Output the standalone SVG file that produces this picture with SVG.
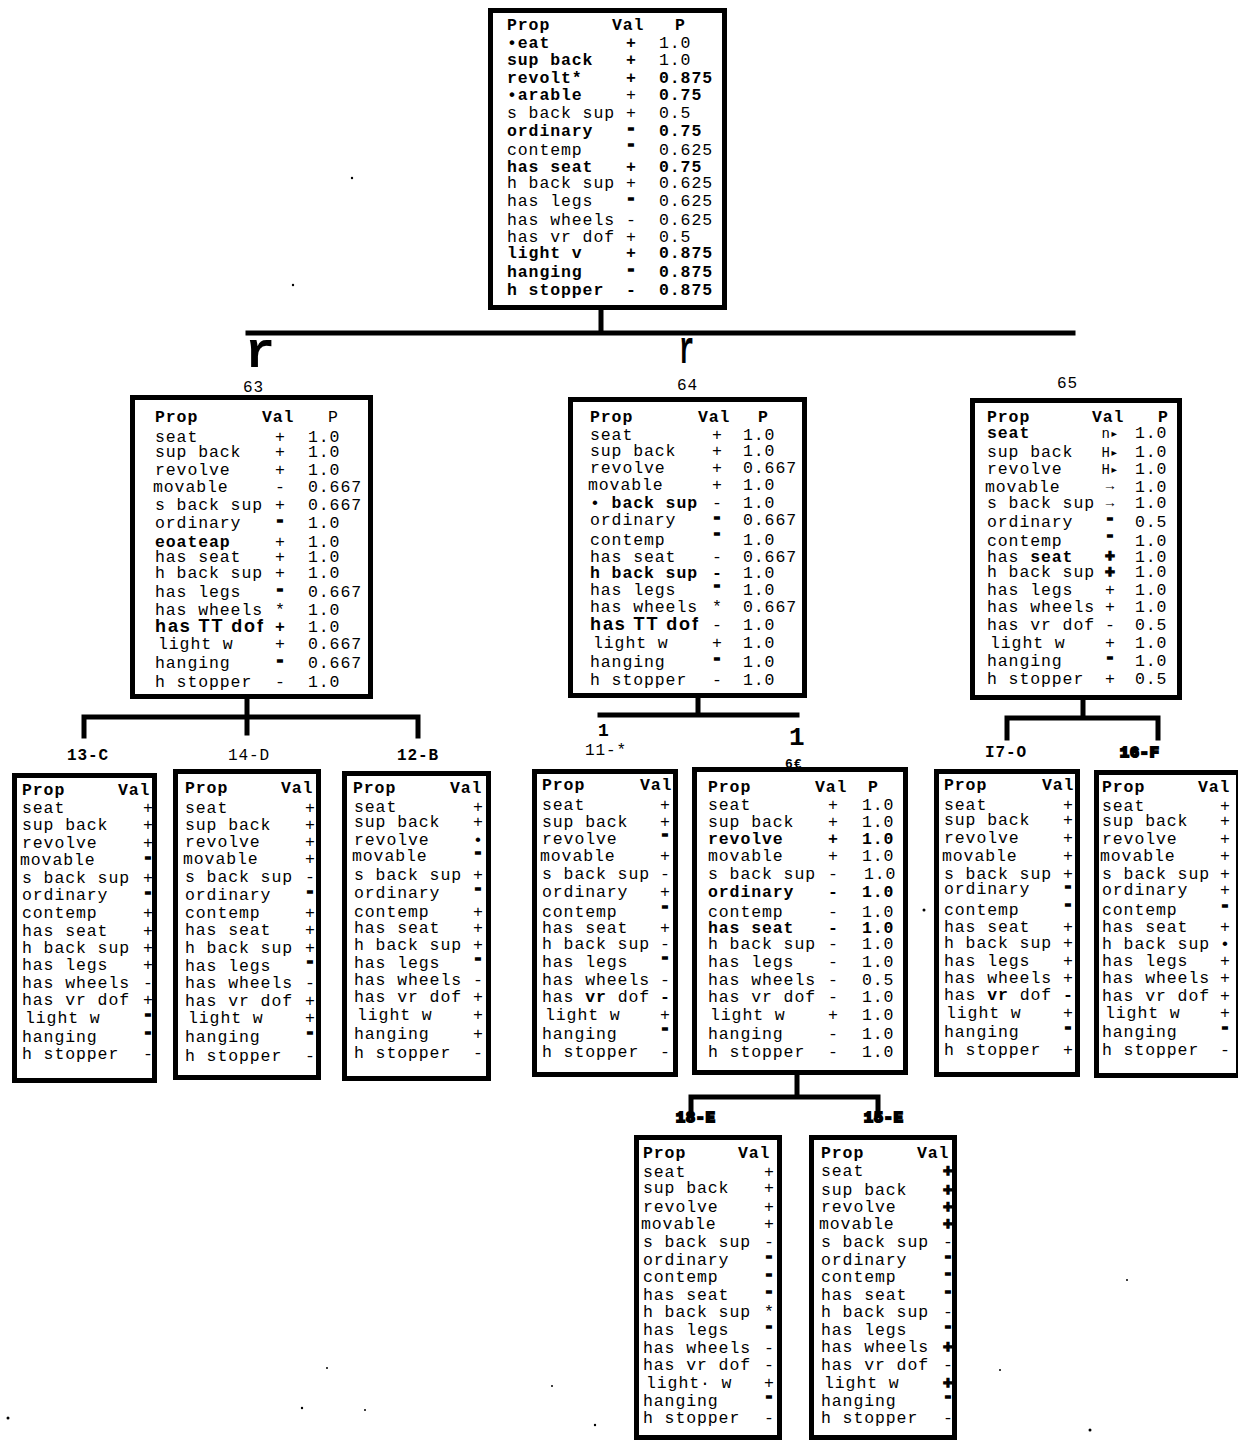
<svg xmlns="http://www.w3.org/2000/svg" width="1238" height="1441" viewBox="0 0 1238 1441">
<style>
.t{font-family:"Liberation Mono","Courier New",monospace;font-size:16.5px;letter-spacing:0.9px;fill:#000}
.b{font-weight:bold}
.h{font-weight:bold;stroke:#000;stroke-width:1.4}
.v{text-anchor:middle;letter-spacing:0}
.s{font-size:14px}
.sp{font-family:"Liberation Sans",Arial,sans-serif;font-weight:bold;font-size:18px}
.lb{font-size:16px}
.bl{font-weight:bold;stroke:#000;stroke-width:2.2;font-size:15px}
.box{fill:#fff;stroke:#000;stroke-width:5}
.ln{fill:none;stroke:#000;stroke-width:5;stroke-linecap:square}
</style>
<rect width="1238" height="1441" fill="#fff"/>
<g id="connectors">
<path class="ln" d="M601,310V333M248,333H1073"/>
<path class="ln" d="M247,699V733M84,717H418M84,717V736M418,717V736"/>
<path class="ln" d="M698,698V715M600,715H797"/>
<path class="ln" d="M1083,700V718M1007,718H1158M1007,718V738M1158,718V738"/>
<path class="ln" d="M797,1075V1097M691,1097H878M691,1097V1110M878,1097V1110"/>
<text class="t b" x="245" y="367" style="font-size:50px">r</text>
<text class="t b" transform="translate(679,363) scale(0.55,1)" style="font-size:46px">r</text>
<text class="t b" x="598" y="736" style="font-size:18px">1</text>
<text class="t b" x="789" y="745" style="font-size:26px">1</text>
</g>
<g id="root">
<rect class="box" x="490.5" y="10.5" width="234" height="297"/>
<text class="t b" x="507" y="30">Prop</text><text class="t b" x="612" y="30">Val</text><text class="t b" x="675" y="30">P</text>
<text class="t b" x="507" y="48">•eat</text><text class="t b v" x="631" y="48">+</text><text class="t" x="659" y="48">1.0</text>
<text class="t b" x="507" y="65">sup back</text><text class="t b v" x="631" y="65">+</text><text class="t" x="659" y="65">1.0</text>
<text class="t b" x="507" y="83">revolt*</text><text class="t b v" x="631" y="83">+</text><text class="t b" x="659" y="83">0.875</text>
<text class="t b" x="507" y="100">•arable</text><text class="t v" x="631" y="100">+</text><text class="t b" x="659" y="100">0.75</text>
<text class="t" x="507" y="118">s back sup</text><text class="t v" x="631" y="118">+</text><text class="t" x="659" y="118">0.5</text>
<text class="t b" x="507" y="136">ordinary</text><text class="t h v" x="631" y="133">-</text><text class="t b" x="659" y="136">0.75</text>
<text class="t" x="507" y="155">contemp</text><text class="t h v" x="631" y="149">-</text><text class="t" x="659" y="155">0.625</text>
<text class="t b" x="507" y="172">has seat</text><text class="t b v" x="631" y="172">+</text><text class="t b" x="659" y="172">0.75</text>
<text class="t" x="507" y="188">h back sup</text><text class="t v" x="631" y="188">+</text><text class="t" x="659" y="188">0.625</text>
<text class="t" x="507" y="206">has legs</text><text class="t h v" x="631" y="203">-</text><text class="t" x="659" y="206">0.625</text>
<text class="t" x="507" y="225">has wheels</text><text class="t v" x="631" y="225">-</text><text class="t" x="659" y="225">0.625</text>
<text class="t" x="507" y="242">has vr dof</text><text class="t v" x="631" y="242">+</text><text class="t" x="659" y="242">0.5</text>
<text class="t b" x="507" y="258">light v</text><text class="t b v" x="631" y="258">+</text><text class="t b" x="659" y="258">0.875</text>
<text class="t b" x="507" y="277">hanging</text><text class="t h v" x="631" y="274">-</text><text class="t b" x="659" y="277">0.875</text>
<text class="t b" x="507" y="295">h stopper</text><text class="t b v" x="631" y="295">-</text><text class="t b" x="659" y="295">0.875</text>
</g>
<g id="n63">
<text class="t" x="243" y="392" style="font-size:16px">63</text>
<rect class="box" x="132.5" y="397.5" width="238" height="299"/>
<text class="t b" x="155" y="422">Prop</text><text class="t b" x="262" y="422">Val</text><text class="t" x="328" y="422">P</text>
<text class="t" x="155" y="442">seat</text><text class="t v" x="280" y="442">+</text><text class="t" x="308" y="442">1.0</text>
<text class="t" x="155" y="457">sup back</text><text class="t v" x="280" y="457">+</text><text class="t" x="308" y="457">1.0</text>
<text class="t" x="155" y="475">revolve</text><text class="t v" x="280" y="475">+</text><text class="t" x="308" y="475">1.0</text>
<text class="t" x="153" y="492">movable</text><text class="t v" x="280" y="492">-</text><text class="t" x="308" y="492">0.667</text>
<text class="t" x="155" y="510">s back sup</text><text class="t v" x="280" y="510">+</text><text class="t" x="308" y="510">0.667</text>
<text class="t" x="155" y="528">ordinary</text><text class="t h v" x="280" y="525">-</text><text class="t" x="308" y="528">1.0</text>
<text class="t b" x="155" y="547">eoateap</text><text class="t v" x="280" y="547">+</text><text class="t" x="308" y="547">1.0</text>
<text class="t" x="155" y="562">has seat</text><text class="t v" x="280" y="562">+</text><text class="t" x="308" y="562">1.0</text>
<text class="t" x="155" y="578">h back sup</text><text class="t v" x="280" y="578">+</text><text class="t" x="308" y="578">1.0</text>
<text class="t" x="155" y="597">has legs</text><text class="t h v" x="280" y="594">-</text><text class="t" x="308" y="597">0.667</text>
<text class="t" x="155" y="615">has wheels</text><text class="t v" x="280" y="615">*</text><text class="t" x="308" y="615">1.0</text>
<text class="sp" x="155" y="632" textLength="108">has TT dof</text><text class="t b v" x="280" y="632">+</text><text class="t" x="308" y="632">1.0</text>
<text class="t" x="158" y="649">light w</text><text class="t v" x="280" y="649">+</text><text class="t" x="308" y="649">0.667</text>
<text class="t" x="155" y="668">hanging</text><text class="t h v" x="280" y="665">-</text><text class="t" x="308" y="668">0.667</text>
<text class="t" x="155" y="687">h stopper</text><text class="t v" x="280" y="687">-</text><text class="t" x="308" y="687">1.0</text>
</g>
<g id="n64">
<text class="t" x="677" y="390" style="font-size:16px">64</text>
<rect class="box" x="570.5" y="399.5" width="234" height="296"/>
<text class="t b" x="590" y="422">Prop</text><text class="t b" x="698" y="422">Val</text><text class="t b" x="758" y="422">P</text>
<text class="t" x="590" y="440">seat</text><text class="t v" x="717" y="440">+</text><text class="t" x="743" y="440">1.0</text>
<text class="t" x="590" y="456">sup back</text><text class="t v" x="717" y="456">+</text><text class="t" x="743" y="456">1.0</text>
<text class="t" x="590" y="473">revolve</text><text class="t v" x="717" y="473">+</text><text class="t" x="743" y="473">0.667</text>
<text class="t" x="588" y="490">movable</text><text class="t v" x="717" y="490">+</text><text class="t" x="743" y="490">1.0</text>
<text class="t" x="590" y="508">• <tspan font-weight="bold">back sup</tspan></text><text class="t v" x="717" y="508">-</text><text class="t" x="743" y="508">1.0</text>
<text class="t" x="590" y="525">ordinary</text><text class="t h v" x="717" y="522">-</text><text class="t" x="743" y="525">0.667</text>
<text class="t" x="590" y="545">contemp</text><text class="t h v" x="717" y="538">-</text><text class="t" x="743" y="545">1.0</text>
<text class="t" x="590" y="562">has seat</text><text class="t v" x="717" y="562">-</text><text class="t" x="743" y="562">0.667</text>
<text class="t b" x="590" y="578">h back sup</text><text class="t b v" x="717" y="578">-</text><text class="t" x="743" y="578">1.0</text>
<text class="t" x="590" y="595">has legs</text><text class="t h v" x="717" y="590">-</text><text class="t" x="743" y="595">1.0</text>
<text class="t" x="590" y="612">has wheels</text><text class="t v" x="717" y="612">*</text><text class="t" x="743" y="612">0.667</text>
<text class="sp" x="590" y="630" textLength="108">has TT dof</text><text class="t v" x="717" y="630">-</text><text class="t" x="743" y="630">1.0</text>
<text class="t" x="593" y="648">light w</text><text class="t v" x="717" y="648">+</text><text class="t" x="743" y="648">1.0</text>
<text class="t" x="590" y="667">hanging</text><text class="t h v" x="717" y="663">-</text><text class="t" x="743" y="667">1.0</text>
<text class="t" x="590" y="685">h stopper</text><text class="t v" x="717" y="685">-</text><text class="t" x="743" y="685">1.0</text>
</g>
<g id="n65">
<text class="t" x="1057" y="388" style="font-size:16px">65</text>
<rect class="box" x="972.5" y="400.5" width="207" height="297"/>
<text class="t b" x="987" y="422">Prop</text><text class="t b" x="1092" y="422">Val</text><text class="t b" x="1158" y="422">P</text>
<text class="t b" x="987" y="438">seat</text><text class="t s v" x="1110" y="438">n▸</text><text class="t" x="1135" y="438">1.0</text>
<text class="t" x="987" y="457">sup back</text><text class="t s v" x="1110" y="457">H▸</text><text class="t" x="1135" y="457">1.0</text>
<text class="t" x="987" y="474">revolve</text><text class="t s v" x="1110" y="474">H▸</text><text class="t" x="1135" y="474">1.0</text>
<text class="t" x="985" y="492">movable</text><text class="t s b v" x="1110" y="490">→</text><text class="t" x="1135" y="492">1.0</text>
<text class="t" x="987" y="508">s back sup</text><text class="t s b v" x="1110" y="507">→</text><text class="t" x="1135" y="508">1.0</text>
<text class="t" x="987" y="527">ordinary</text><text class="t h v" x="1110" y="523">-</text><text class="t" x="1135" y="527">0.5</text>
<text class="t" x="987" y="546">contemp</text><text class="t h v" x="1110" y="540">-</text><text class="t" x="1135" y="546">1.0</text>
<text class="t" x="987" y="562">has <tspan font-weight="bold">seat</tspan></text><text class="t h v" x="1110" y="561">+</text><text class="t" x="1135" y="562">1.0</text>
<text class="t" x="987" y="577">h back sup</text><text class="t h v" x="1110" y="577">+</text><text class="t" x="1135" y="577">1.0</text>
<text class="t" x="987" y="595">has legs</text><text class="t v" x="1110" y="595">+</text><text class="t" x="1135" y="595">1.0</text>
<text class="t" x="987" y="612">has wheels</text><text class="t v" x="1110" y="612">+</text><text class="t" x="1135" y="612">1.0</text>
<text class="t" x="987" y="630">has vr dof</text><text class="t v" x="1110" y="630">-</text><text class="t" x="1135" y="630">0.5</text>
<text class="t" x="990" y="648">light w</text><text class="t v" x="1110" y="648">+</text><text class="t" x="1135" y="648">1.0</text>
<text class="t" x="987" y="666">hanging</text><text class="t h v" x="1110" y="662">-</text><text class="t" x="1135" y="666">1.0</text>
<text class="t" x="987" y="684">h stopper</text><text class="t v" x="1110" y="684">+</text><text class="t" x="1135" y="684">0.5</text>
</g>
<g id="n13C">
<text class="t b lb" x="67" y="760">13-C</text>
<rect class="box" x="14.5" y="775.5" width="140" height="305"/>
<text class="t b" x="22" y="795">Prop</text><text class="t b" x="118" y="795">Val</text>
<text class="t" x="22" y="813">seat</text><text class="t v" x="148" y="813">+</text>
<text class="t" x="22" y="830">sup back</text><text class="t v" x="148" y="830">+</text>
<text class="t" x="22" y="848">revolve</text><text class="t v" x="148" y="848">+</text>
<text class="t" x="20" y="865">movable</text><text class="t h v" x="148" y="862">-</text>
<text class="t" x="22" y="883">s back sup</text><text class="t v" x="148" y="883">+</text>
<text class="t" x="22" y="900">ordinary</text><text class="t h v" x="148" y="897">-</text>
<text class="t" x="22" y="918">contemp</text><text class="t v" x="148" y="918">+</text>
<text class="t" x="22" y="936">has seat</text><text class="t v" x="148" y="936">+</text>
<text class="t" x="22" y="953">h back sup</text><text class="t v" x="148" y="953">+</text>
<text class="t" x="22" y="970">has legs</text><text class="t v" x="148" y="970">+</text>
<text class="t" x="22" y="988">has wheels</text><text class="t v" x="148" y="988">-</text>
<text class="t" x="22" y="1005">has vr dof</text><text class="t v" x="148" y="1005">+</text>
<text class="t" x="25" y="1023">light w</text><text class="t h v" x="148" y="1019">-</text>
<text class="t" x="22" y="1042">hanging</text><text class="t h v" x="148" y="1037">-</text>
<text class="t" x="22" y="1059">h stopper</text><text class="t v" x="148" y="1059">-</text>
</g>
<g id="n14D">
<text class="t lb" x="228" y="760">14-D</text>
<rect class="box" x="175.5" y="771.5" width="143" height="306"/>
<text class="t b" x="185" y="793">Prop</text><text class="t b" x="281" y="793">Val</text>
<text class="t" x="185" y="813">seat</text><text class="t v" x="310" y="813">+</text>
<text class="t" x="185" y="830">sup back</text><text class="t v" x="310" y="830">+</text>
<text class="t" x="185" y="847">revolve</text><text class="t v" x="310" y="847">+</text>
<text class="t" x="183" y="864">movable</text><text class="t v" x="310" y="864">+</text>
<text class="t" x="185" y="882">s back sup</text><text class="t v" x="310" y="882">-</text>
<text class="t" x="185" y="900">ordinary</text><text class="t h v" x="310" y="896">-</text>
<text class="t" x="185" y="918">contemp</text><text class="t v" x="310" y="918">+</text>
<text class="t" x="185" y="935">has seat</text><text class="t v" x="310" y="935">+</text>
<text class="t" x="185" y="953">h back sup</text><text class="t v" x="310" y="953">+</text>
<text class="t" x="185" y="971">has legs</text><text class="t h v" x="310" y="966">-</text>
<text class="t" x="185" y="988">has wheels</text><text class="t v" x="310" y="988">-</text>
<text class="t" x="185" y="1006">has vr dof</text><text class="t v" x="310" y="1006">+</text>
<text class="t" x="188" y="1023">light w</text><text class="t v" x="310" y="1023">+</text>
<text class="t" x="185" y="1042">hanging</text><text class="t h v" x="310" y="1037">-</text>
<text class="t" x="185" y="1061">h stopper</text><text class="t v" x="310" y="1061">-</text>
</g>
<g id="n12B">
<text class="t b lb" x="397" y="760">12-B</text>
<rect class="box" x="344.5" y="773.5" width="144" height="305"/>
<text class="t b" x="353" y="793">Prop</text><text class="t b" x="450" y="793">Val</text>
<text class="t" x="354" y="812">seat</text><text class="t v" x="478" y="812">+</text>
<text class="t" x="354" y="827">sup back</text><text class="t v" x="478" y="827">+</text>
<text class="t" x="354" y="845">revolve</text><text class="t v" x="478" y="845">•</text>
<text class="t" x="352" y="861">movable</text><text class="t h v" x="478" y="857">-</text>
<text class="t" x="354" y="880">s back sup</text><text class="t v" x="478" y="880">+</text>
<text class="t" x="354" y="898">ordinary</text><text class="t h v" x="478" y="893">-</text>
<text class="t" x="354" y="917">contemp</text><text class="t v" x="478" y="917">+</text>
<text class="t" x="354" y="933">has seat</text><text class="t v" x="478" y="933">+</text>
<text class="t" x="354" y="950">h back sup</text><text class="t v" x="478" y="950">+</text>
<text class="t" x="354" y="968">has legs</text><text class="t h v" x="478" y="963">-</text>
<text class="t" x="354" y="985">has wheels</text><text class="t v" x="478" y="985">-</text>
<text class="t" x="354" y="1002">has vr dof</text><text class="t v" x="478" y="1002">+</text>
<text class="t" x="357" y="1020">light w</text><text class="t v" x="478" y="1020">+</text>
<text class="t" x="354" y="1039">hanging</text><text class="t v" x="478" y="1039">+</text>
<text class="t" x="354" y="1058">h stopper</text><text class="t v" x="478" y="1058">-</text>
</g>
<g id="n11">
<text class="t" x="585" y="755" style="font-size:16px">11-*</text>
<rect class="box" x="534.5" y="771.5" width="141" height="303"/>
<text class="t b" x="542" y="790">Prop</text><text class="t b" x="640" y="790">Val</text>
<text class="t" x="542" y="810">seat</text><text class="t v" x="665" y="810">+</text>
<text class="t" x="542" y="827">sup back</text><text class="t v" x="665" y="827">+</text>
<text class="t" x="542" y="844">revolve</text><text class="t h v" x="665" y="839">-</text>
<text class="t" x="540" y="861">movable</text><text class="t v" x="665" y="861">+</text>
<text class="t" x="542" y="879">s back sup</text><text class="t v" x="665" y="879">-</text>
<text class="t" x="542" y="897">ordinary</text><text class="t v" x="665" y="897">+</text>
<text class="t" x="542" y="917">contemp</text><text class="t h v" x="665" y="911">-</text>
<text class="t" x="542" y="933">has seat</text><text class="t v" x="665" y="933">+</text>
<text class="t" x="542" y="949">h back sup</text><text class="t v" x="665" y="949">-</text>
<text class="t" x="542" y="967">has legs</text><text class="t h v" x="665" y="962">-</text>
<text class="t" x="542" y="985">has wheels</text><text class="t v" x="665" y="985">-</text>
<text class="t" x="542" y="1002">has <tspan font-weight="bold">vr</tspan> dof</text><text class="t b v" x="665" y="1002">-</text>
<text class="t" x="545" y="1020">light w</text><text class="t v" x="665" y="1020">+</text>
<text class="t" x="542" y="1039">hanging</text><text class="t h v" x="665" y="1033">-</text>
<text class="t" x="542" y="1057">h stopper</text><text class="t v" x="665" y="1057">-</text>
</g>
<g id="n6">
<text class="t b" x="785" y="768" style="font-size:13px">6€</text>
<rect class="box" x="694.5" y="769.5" width="211" height="303"/>
<text class="t b" x="708" y="792">Prop</text><text class="t b" x="815" y="792">Val</text><text class="t b" x="868" y="792">P</text>
<text class="t" x="708" y="810">seat</text><text class="t v" x="833" y="810">+</text><text class="t" x="862" y="810">1.0</text>
<text class="t" x="708" y="827">sup back</text><text class="t v" x="833" y="827">+</text><text class="t" x="862" y="827">1.0</text>
<text class="t b" x="708" y="844">revolve</text><text class="t b v" x="833" y="844">+</text><text class="t b" x="862" y="844">1.0</text>
<text class="t" x="708" y="861">movable</text><text class="t v" x="833" y="861">+</text><text class="t" x="862" y="861">1.0</text>
<text class="t" x="708" y="879">s back sup</text><text class="t v" x="833" y="879">-</text><text class="t" x="864" y="879">1.0</text>
<text class="t b" x="708" y="897">ordinary</text><text class="t b v" x="833" y="897">-</text><text class="t b" x="862" y="897">1.0</text>
<text class="t" x="708" y="917">contemp</text><text class="t v" x="833" y="917">-</text><text class="t" x="862" y="917">1.0</text>
<text class="t b" x="708" y="933">has seat</text><text class="t b v" x="833" y="933">-</text><text class="t b" x="862" y="933">1.0</text>
<text class="t" x="708" y="949">h back sup</text><text class="t v" x="833" y="949">-</text><text class="t" x="862" y="949">1.0</text>
<text class="t" x="708" y="967">has legs</text><text class="t v" x="833" y="967">-</text><text class="t" x="862" y="967">1.0</text>
<text class="t" x="708" y="985">has wheels</text><text class="t v" x="833" y="985">-</text><text class="t" x="862" y="985">0.5</text>
<text class="t" x="708" y="1002">has vr dof</text><text class="t v" x="833" y="1002">-</text><text class="t" x="862" y="1002">1.0</text>
<text class="t" x="710" y="1020">light w</text><text class="t v" x="833" y="1020">+</text><text class="t" x="862" y="1020">1.0</text>
<text class="t" x="708" y="1039">hanging</text><text class="t v" x="833" y="1039">-</text><text class="t" x="862" y="1039">1.0</text>
<text class="t" x="708" y="1057">h stopper</text><text class="t v" x="833" y="1057">-</text><text class="t" x="862" y="1057">1.0</text>
</g>
<g id="n17O">
<text class="t b lb" x="985" y="757">I7-O</text>
<rect class="box" x="936.5" y="771.5" width="141" height="303"/>
<text class="t b" x="944" y="790">Prop</text><text class="t b" x="1042" y="790">Val</text>
<text class="t" x="944" y="810">seat</text><text class="t v" x="1068" y="810">+</text>
<text class="t" x="944" y="825">sup back</text><text class="t v" x="1068" y="825">+</text>
<text class="t" x="944" y="843">revolve</text><text class="t v" x="1068" y="843">+</text>
<text class="t" x="942" y="861">movable</text><text class="t v" x="1068" y="861">+</text>
<text class="t" x="944" y="879">s back sup</text><text class="t v" x="1068" y="879">+</text>
<text class="t" x="944" y="894">ordinary</text><text class="t h v" x="1068" y="891">-</text>
<text class="t" x="944" y="915">contemp</text><text class="t h v" x="1068" y="909">-</text>
<text class="t" x="944" y="932">has seat</text><text class="t v" x="1068" y="932">+</text>
<text class="t" x="944" y="948">h back sup</text><text class="t v" x="1068" y="948">+</text>
<text class="t" x="944" y="966">has legs</text><text class="t v" x="1068" y="966">+</text>
<text class="t" x="944" y="983">has wheels</text><text class="t v" x="1068" y="983">+</text>
<text class="t" x="944" y="1000">has <tspan font-weight="bold">vr</tspan> dof</text><text class="t b v" x="1068" y="1000">-</text>
<text class="t" x="946" y="1018">light w</text><text class="t v" x="1068" y="1018">+</text>
<text class="t" x="944" y="1037">hanging</text><text class="t h v" x="1068" y="1032">-</text>
<text class="t" x="944" y="1055">h stopper</text><text class="t v" x="1068" y="1055">+</text>
</g>
<g id="n16F">
<text class="t bl" x="1120" y="757">16-F</text>
<rect class="box" x="1096.5" y="772.5" width="142" height="303"/>
<text class="t b" x="1102" y="792">Prop</text><text class="t b" x="1198" y="792">Val</text>
<text class="t" x="1102" y="811">seat</text><text class="t v" x="1225" y="811">+</text>
<text class="t" x="1102" y="826">sup back</text><text class="t v" x="1225" y="826">+</text>
<text class="t" x="1102" y="844">revolve</text><text class="t v" x="1225" y="844">+</text>
<text class="t" x="1100" y="861">movable</text><text class="t v" x="1225" y="861">+</text>
<text class="t" x="1102" y="879">s back sup</text><text class="t v" x="1225" y="879">+</text>
<text class="t" x="1102" y="895">ordinary</text><text class="t v" x="1225" y="895">+</text>
<text class="t" x="1102" y="915">contemp</text><text class="t h v" x="1225" y="910">-</text>
<text class="t" x="1102" y="932">has seat</text><text class="t v" x="1225" y="932">+</text>
<text class="t" x="1102" y="949">h back sup</text><text class="t v" x="1225" y="949">•</text>
<text class="t" x="1102" y="966">has legs</text><text class="t v" x="1225" y="966">+</text>
<text class="t" x="1102" y="983">has wheels</text><text class="t v" x="1225" y="983">+</text>
<text class="t" x="1102" y="1001">has vr dof</text><text class="t v" x="1225" y="1001">+</text>
<text class="t" x="1105" y="1018">light w</text><text class="t v" x="1225" y="1018">+</text>
<text class="t" x="1102" y="1037">hanging</text><text class="t h v" x="1225" y="1032">-</text>
<text class="t" x="1102" y="1055">h stopper</text><text class="t v" x="1225" y="1055">-</text>
</g>
<g id="n18E">
<text class="t bl" x="676" y="1122">18-E</text>
<rect class="box" x="636.5" y="1137.5" width="143" height="300"/>
<text class="t b" x="643" y="1158">Prop</text><text class="t b" x="738" y="1158">Val</text>
<text class="t" x="643" y="1177">seat</text><text class="t v" x="769" y="1177">+</text>
<text class="t" x="643" y="1193">sup back</text><text class="t v" x="769" y="1193">+</text>
<text class="t" x="643" y="1212">revolve</text><text class="t v" x="769" y="1212">+</text>
<text class="t" x="641" y="1229">movable</text><text class="t v" x="769" y="1229">+</text>
<text class="t" x="643" y="1247">s back sup</text><text class="t v" x="769" y="1247">-</text>
<text class="t" x="643" y="1265">ordinary</text><text class="t h v" x="769" y="1261">-</text>
<text class="t" x="643" y="1282">contemp</text><text class="t h v" x="769" y="1279">-</text>
<text class="t" x="643" y="1300">has seat</text><text class="t h v" x="769" y="1296">-</text>
<text class="t" x="643" y="1317">h back sup</text><text class="t v" x="769" y="1317">*</text>
<text class="t" x="643" y="1335">has legs</text><text class="t h v" x="769" y="1331">-</text>
<text class="t" x="643" y="1353">has wheels</text><text class="t v" x="769" y="1353">-</text>
<text class="t" x="643" y="1370">has vr dof</text><text class="t v" x="769" y="1370">-</text>
<text class="t" x="646" y="1388">light· w</text><text class="t v" x="769" y="1388">+</text>
<text class="t" x="643" y="1406">hanging</text><text class="t h v" x="769" y="1401">-</text>
<text class="t" x="643" y="1423">h stopper</text><text class="t v" x="769" y="1423">-</text>
</g>
<g id="n15E">
<text class="t bl" x="864" y="1122">15-E</text>
<rect class="box" x="811.5" y="1137.5" width="143" height="300"/>
<text class="t b" x="821" y="1158">Prop</text><text class="t b" x="917" y="1158">Val</text>
<text class="t" x="821" y="1176">seat</text><text class="t h v" x="948" y="1176">+</text>
<text class="t" x="821" y="1195">sup back</text><text class="t h v" x="948" y="1195">+</text>
<text class="t" x="821" y="1212">revolve</text><text class="t h v" x="948" y="1212">+</text>
<text class="t" x="819" y="1229">movable</text><text class="t h v" x="948" y="1229">+</text>
<text class="t" x="821" y="1247">s back sup</text><text class="t v" x="948" y="1247">-</text>
<text class="t" x="821" y="1265">ordinary</text><text class="t h v" x="948" y="1261">-</text>
<text class="t" x="821" y="1282">contemp</text><text class="t h v" x="948" y="1278">-</text>
<text class="t" x="821" y="1300">has seat</text><text class="t h v" x="948" y="1296">-</text>
<text class="t" x="821" y="1317">h back sup</text><text class="t v" x="948" y="1317">-</text>
<text class="t" x="821" y="1335">has legs</text><text class="t h v" x="948" y="1331">-</text>
<text class="t" x="821" y="1352">has wheels</text><text class="t h v" x="948" y="1352">+</text>
<text class="t" x="821" y="1370">has vr dof</text><text class="t v" x="948" y="1370">-</text>
<text class="t" x="824" y="1388">light w</text><text class="t h v" x="948" y="1388">+</text>
<text class="t" x="821" y="1406">hanging</text><text class="t h v" x="948" y="1401">-</text>
<text class="t" x="821" y="1423">h stopper</text><text class="t v" x="948" y="1423">-</text>
</g>
<g id="specks" fill="#000">
<circle cx="352" cy="178" r="1.2"/><circle cx="293" cy="285" r="1.2"/><circle cx="924" cy="910" r="1.5"/>
<circle cx="1127" cy="1280" r="1"/><circle cx="1000" cy="1370" r="1"/><circle cx="327" cy="1368" r="1"/>
<circle cx="552" cy="1386" r="1"/><circle cx="8" cy="1418" r="1.5"/><circle cx="302" cy="1408" r="1.2"/>
<circle cx="365" cy="1410" r="1"/><circle cx="595" cy="1425" r="1.2"/><circle cx="1090" cy="1430" r="1.5"/>
</g>
</svg>
